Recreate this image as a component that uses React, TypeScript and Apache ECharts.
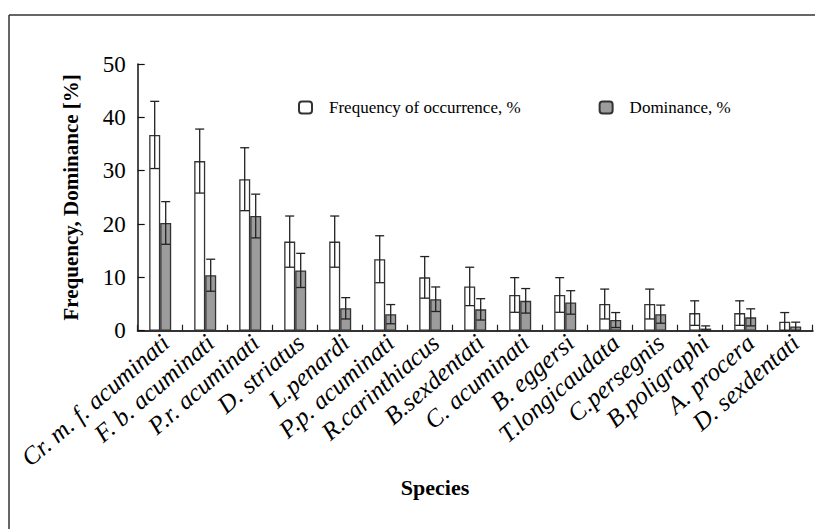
import React, { useEffect, useRef } from "react";
import * as echarts from "echarts";

const species = [
  "Cr. m. f. acuminati",
  "F. b. acuminati",
  "P.r. acuminati",
  "D. striatus",
  "L.penardi",
  "P.p. acuminati",
  "R.carinthiacus",
  "B.sexdentati",
  "C. acuminati",
  "B. eggersi",
  "T.longicaudata",
  "C.persegnis",
  "B.poligraphi",
  "A. procera",
  "D. sexdentati",
];
const frequency = [36.7, 31.8, 28.4, 16.7, 16.7, 13.4, 10.0, 8.3, 6.7, 6.7, 5.0, 5.0, 3.3, 3.3, 1.7];
const frequencyErr = [6.3, 6.0, 5.9, 4.8, 4.8, 4.4, 3.9, 3.6, 3.25, 3.25, 2.8, 2.8, 2.3, 2.3, 1.7];
const dominance = [20.2, 10.4, 21.5, 11.3, 4.2, 3.1, 5.9, 4.0, 5.6, 5.3, 2.0, 3.1, 0.4, 2.5, 0.8];
const dominanceErr = [4.0, 3.0, 4.1, 3.2, 2.0, 1.8, 2.3, 2.0, 2.3, 2.2, 1.4, 1.7, 0.5, 1.6, 0.8];
const yTicks = { min: 0, max: 50, interval: 10 };

const FONT = "'Liberation Serif', 'Times New Roman', serif";
const BAR_W = 11;

function errorSeries(name: string, means: number[], errs: number[], offset: number) {
  return {
    type: "custom",
    name: name + " error",
    z: 5,
    silent: true,
    data: means.map((m, i) => [i, m, errs[i]]),
    renderItem: (params: any, api: any) => {
      const idx = api.value(0);
      const mean = api.value(1);
      const err = api.value(2);
      const top = api.coord([idx, mean + err]);
      const bot = api.coord([idx, Math.max(0, mean - err)]);
      const x = top[0] + offset;
      const cap = 4.5;
      const style = { stroke: "#222", lineWidth: 1.3 };
      return {
        type: "group",
        children: [
          { type: "line", shape: { x1: x, y1: top[1], x2: x, y2: bot[1] }, style },
          { type: "line", shape: { x1: x - cap, y1: top[1], x2: x + cap, y2: top[1] }, style },
          { type: "line", shape: { x1: x - cap, y1: bot[1], x2: x + cap, y2: bot[1] }, style },
        ],
      };
    },
  };
}

export default function App() {
  const ref = useRef<HTMLDivElement>(null);
  useEffect(() => {
    if (!ref.current) return;
    const chart = echarts.init(ref.current, undefined, { renderer: "svg" });
    chart.setOption({
      animation: false,
      backgroundColor: "#fff",
      textStyle: { fontFamily: FONT },
      grid: { left: 137.7, right: 2.3, top: 64, bottom: 198.3 },
      legend: {
        left: 298,
        top: 99,
        padding: 0,
        itemWidth: 13,
        itemHeight: 12,
        itemGap: 78,
        textStyle: { fontFamily: FONT, fontSize: 17, color: "#000", padding: [0, 0, 0, 12] },
        data: ["Frequency of occurrence, %", "Dominance, %"],
      },
      xAxis: {
        type: "category",
        data: species,
        axisLine: { lineStyle: { color: "#333", width: 2 } },
        axisTick: { show: true, inside: true, length: 6, lineStyle: { color: "#222", width: 1.2 } },
        axisLabel: {
          interval: 0,
          rotate: 41,
          fontFamily: FONT,
          fontStyle: "italic",
          fontSize: 25,
          color: "#000",
          margin: 13,
          padding: [0, -7, 0, 0],
        },
      },
      yAxis: {
        type: "value",
        min: yTicks.min,
        max: yTicks.max,
        interval: yTicks.interval,
        name: "Frequency, Dominance [%]",
        nameLocation: "middle",
        nameGap: 56,
        nameTextStyle: { fontFamily: FONT, fontSize: 21, fontWeight: "bold", color: "#000" },
        splitLine: { show: false },
        axisLine: { show: true, lineStyle: { color: "#111", width: 1.5 } },
        axisTick: { show: true, inside: true, length: 7, lineStyle: { color: "#111", width: 1.2 } },
        axisLabel: { fontFamily: FONT, fontSize: 23, color: "#000", margin: 12 },
      },
      graphic: [
        { type: "line", shape: { x1: 9, y1: 15, x2: 815, y2: 15 }, style: { stroke: "#333", lineWidth: 1.5 } },
        { type: "line", shape: { x1: 9, y1: 15, x2: 9, y2: 529 }, style: { stroke: "#333", lineWidth: 1.5 } },
        {
          type: "text",
          x: 435,
          y: 487,
          style: {
            text: "Species",
            fontFamily: FONT,
            fontSize: 22,
            fontWeight: "bold",
            fill: "#000",
            align: "center",
            verticalAlign: "middle",
          },
        },
      ],
      series: [
        {
          type: "bar",
          name: "Frequency of occurrence, %",
          data: frequency,
          barWidth: BAR_W,
          barGap: "0%",
          itemStyle: { color: "#fff", borderColor: "#333", borderWidth: 1.3 },
        },
        {
          type: "bar",
          name: "Dominance, %",
          data: dominance,
          barWidth: BAR_W,
          barGap: "0%",
          itemStyle: { color: "#9c9c9c", borderColor: "#333", borderWidth: 1.3 },
        },
        errorSeries("Frequency", frequency, frequencyErr, -BAR_W / 2),
        errorSeries("Dominance", dominance, dominanceErr, BAR_W / 2),
      ],
    });
    return () => chart.dispose();
  }, []);
  return (
    <div
      ref={ref}
      style={{ position: "fixed", left: 0, top: 0, width: 815, height: 529 }}
    />
  );
}
